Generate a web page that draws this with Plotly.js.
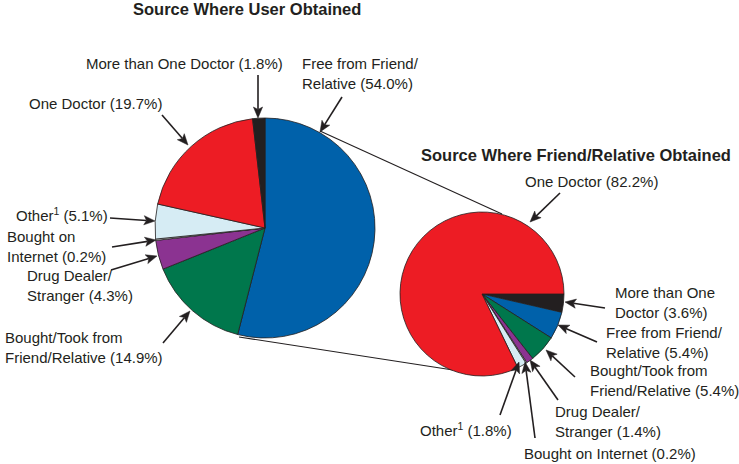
<!DOCTYPE html>
<html>
<head>
<meta charset="utf-8">
<script src="https://cdn.plot.ly/plotly-3.0.1.min.js"></script>
<style>html,body{margin:0;padding:0;background:#fff}#chart{width:739px;height:464px}</style>
</head>
<body>
<div id="chart"></div>
<script>
// ---- data ----
const userCategories = ["Free from Friend/Relative","Bought/Took from Friend/Relative","Drug Dealer/Stranger","Bought on Internet","Other","One Doctor","More than One Doctor"];
const userValues = [54.0, 14.9, 4.3, 0.2, 5.1, 19.7, 1.8];
const friendCategories = ["More than One Doctor","Free from Friend/Relative","Bought/Took from Friend/Relative","Drug Dealer/Stranger","Bought on Internet","Other","One Doctor"];
const friendValues = [3.6, 5.4, 5.4, 1.4, 0.2, 1.8, 82.2];
const titles = ["Source Where User Obtained", "Source Where Friend/Relative Obtained"];

// label text (display names, with line breaks)
const userLabelNames = ["Free from Friend/<br>Relative","Bought/Took from<br>Friend/Relative","Drug Dealer/<br>Stranger","Bought on<br>Internet","Other<sup>1</sup>","One Doctor","More than One Doctor"];
const friendLabelNames = ["More than One<br>Doctor","Free from Friend/<br>Relative","Bought/Took from<br>Friend/Relative","Drug Dealer/<br>Stranger","Bought on Internet","Other<sup>1</sup>","One Doctor"];

// ---- styles ----
const colorMap = {
  "Free from Friend/Relative":"#0061AA",
  "Bought/Took from Friend/Relative":"#00774C",
  "Drug Dealer/Stranger":"#8B3391",
  "Bought on Internet":"#E8E8E8",
  "Other":"#D6ECF4",
  "One Doctor":"#ED1C24",
  "More than One Doctor":"#231F20"
};
const W = 739, H = 464;
const px = x => x / W, py = y => 1 - y / H;
const FONT = "Liberation Sans, Arial, Helvetica, sans-serif";
const INK = "#231F20";

// label placement: [left x, center y, tipX, tipY, tailX, tailY]
const userLabelPos = [
  [300, 73, 320, 132, 342, 97],
  [3, 347, 190, 311, 163, 343],
  [25, 285, 157, 256, 111, 270],
  [5, 246, 156, 240, 112, 247],
  [14, 214, 155, 221, 110, 218],
  [27, 103, 188, 145, 162, 115],
  [84, 63, 258, 118, 258, 75]
];
const friendLabelPos = [
  [613, 302, 565, 302, 605, 308],
  [604, 342, 558, 325, 597, 342],
  [588, 380, 546, 350, 575, 377],
  [553, 421, 530, 360, 558, 400],
  [522, 453, 525, 362, 535, 438],
  [418, 429, 519, 362, 500, 415],
  [523, 182, 530, 222, 560, 193]
];

function pieTrace(cats, vals, x0, y0, x1, y1, rot) {
  return {
    type: "pie", labels: cats, values: vals, sort: false, direction: "clockwise",
    rotation: rot, textinfo: "none", textposition: "none", hoverinfo: "skip",
    showlegend: false,
    marker: {colors: cats.map(c => colorMap[c]), line: {color: INK, width: 0.8}},
    domain: {x: [px(x0), px(x1)], y: [py(y1), py(y0)]}
  };
}

const data = [
  pieTrace(userCategories, userValues, 155, 118, 375, 338, 0),
  pieTrace(friendCategories, friendValues, 400, 212, 564, 376, 90)
];

const annotations = [];
const shapes = [
  {type:"line", xref:"paper", yref:"paper", x0:px(320), y0:py(131), x1:px(502), y1:py(214), line:{color:INK, width:1.1}, layer:"below"},
  {type:"line", xref:"paper", yref:"paper", x0:px(239), y0:py(337), x1:px(453), y1:py(370), line:{color:INK, width:1.1}, layer:"below"}
];

function addArrow(tx, ty, sx, sy) {
  const dx = tx - sx, dy = ty - sy, L = Math.hypot(dx, dy);
  const ux = dx / L, uy = dy / L, nx = -uy, ny = ux;
  const HL = 11, HW = 4.6, NOTCH = 8.5;
  const bx = tx - ux * HL, by = ty - uy * HL;
  const mx = tx - ux * NOTCH, my = ty - uy * NOTCH;
  shapes.push({type:"line", xref:"paper", yref:"paper", x0:px(sx), y0:py(sy), x1:px(mx), y1:py(my),
    line:{color:INK, width:1.6}});
  const P = (x, y) => px(x).toFixed(5) + "," + py(y).toFixed(5);
  shapes.push({type:"path", xref:"paper", yref:"paper",
    path: "M" + P(tx, ty) + " L" + P(bx + nx * HW, by + ny * HW) + " L" + P(mx, my) +
          " L" + P(bx - nx * HW, by - ny * HW) + " Z",
    fillcolor: INK, line:{color:INK, width:0.5}});
}

function addLabels(names, vals, pos) {
  names.forEach((n, i) => {
    const p = pos[i];
    annotations.push({
      xref: "paper", yref: "paper", x: px(p[0]), y: py(p[1]),
      xanchor: "left", yanchor: "middle", align: "left", showarrow: false,
      text: n + " (" + vals[i].toFixed(1) + "%)",
      font: {family: FONT, size: 15, color: INK}
    });
    addArrow(p[2], p[3], p[4], p[5]);
  });
}
addLabels(userLabelNames, userValues, userLabelPos);
addLabels(friendLabelNames, friendValues, friendLabelPos);

annotations.push({xref:"paper", yref:"paper", x: px(247.5), y: py(9), xanchor:"center", yanchor:"middle",
  showarrow:false, text:"<b>"+titles[0]+"</b>", font:{family:FONT, size:16.5, color:INK}});
annotations.push({xref:"paper", yref:"paper", x: px(576), y: py(155), xanchor:"center", yanchor:"middle",
  showarrow:false, text:"<b>"+titles[1]+"</b>", font:{family:FONT, size:16.5, color:INK}});

const layout = {
  width: W, height: H, margin: {l:0, r:0, t:0, b:0},
  paper_bgcolor: "#fff", plot_bgcolor: "#fff",
  showlegend: false, annotations: annotations, shapes: shapes
};
Plotly.newPlot("chart", data, layout, {displayModeBar: false, staticPlot: true});
</script>
</body>
</html>
